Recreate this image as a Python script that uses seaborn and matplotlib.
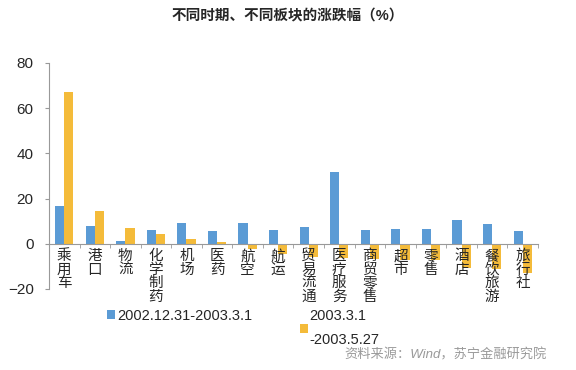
import pandas as pd
import seaborn as sns
import matplotlib.pyplot as plt

# Daten
categories = ["乘用车", "港口", "物流", "化学制药", "机场", "医药", "航空", "航运",
              "贸易流通", "医疗服务", "商贸零售", "超市", "零售", "酒店", "餐饮旅游", "旅行社"]
period1 = [16.7, 7.7, 1.0, 6.3, 9.1, 5.5, 9.1, 6.3, 7.3, 31.8, 6.0, 6.4, 6.4, 10.4, 8.6, 5.5]
period2 = [67.3, 14.4, 7.0, 4.3, 1.9, 0.6, -2.4, -4.6, -5.7, -6.4, -6.7, -7.4, -7.1, -10.9, -11.3, -13.1]
series_names = ["2002.12.31-2003.3.1", "2003.3.1\n-2003.5.27"]

df = pd.DataFrame({
    "cat": categories * 2,
    "val": period1 + period2,
    "period": [series_names[0]] * len(categories) + [series_names[1]] * len(categories),
})

sns.set_style("white")
plt.rcParams["font.family"] = ["Liberation Sans", "Noto Sans CJK SC"]

fig = plt.figure(figsize=(5.76, 3.7), dpi=100)
ax = fig.add_axes([0.085, 0.219, 0.849, 0.611])

sns.barplot(data=df, x="cat", y="val", hue="period", palette=["#5B9BD5", "#F4BB3A"],
            width=0.6, gap=0, ax=ax, legend=True, linewidth=0, saturation=1)

ax.set_ylim(-20, 80)
ax.set_yticks([-20, 0, 20, 40, 60, 80])
ax.set_xlim(-0.5, len(categories) - 0.5)
ax.tick_params(axis="y", labelsize=11, length=3, color="#999999", left=True, pad=8)
ax.set_xlabel("")
ax.set_ylabel("")
ax.set_axisbelow(False)  # Beschriftung vor den Balken

# x-Achse bei 0, vertikale Beschriftung
ax.spines["bottom"].set_position(("data", 0))
ax.spines["bottom"].set_color("#999999")
ax.spines["left"].set_color("#999999")
ax.spines["top"].set_visible(False)
ax.spines["right"].set_visible(False)
ax.set_xticks(range(len(categories)))
ax.set_xticklabels(["\n".join(c) for c in categories], fontsize=10.5, linespacing=0.95,
                   va="top")
ax.tick_params(axis="x", length=0, pad=4)
ax.set_xticks([i + 0.5 for i in range(-1, len(categories))], minor=True)
ax.tick_params(axis="x", which="minor", length=3, color="#999999", bottom=True)

# Legende (zwei getrennte Einträge)
handles, labels = ax.get_legend_handles_labels()
ax.get_legend().remove()
leg_kw = dict(loc="upper left", frameon=False, fontsize=10.5, handlelength=0.6,
              handleheight=0.6, handletextpad=0.1, borderaxespad=0, borderpad=0)
fig.legend(handles[:1], labels[:1], bbox_to_anchor=(0.185, 0.165), **leg_kw)
leg2 = fig.legend(handles[1:], labels[1:], bbox_to_anchor=(0.52, 0.165), **leg_kw)
for t in leg2.get_texts():
    t.set_linespacing(1.9)

fig.text(0.5, 0.955, "不同时期、不同板块的涨跌幅（%）", ha="center", va="center",
         fontsize=10.5, fontweight="bold")
fig.text(0.95, 0.04, "资料来源：Wind，苏宁金融研究院", ha="right", va="center",
         fontsize=9.5, color="#9a9a9a", style="italic")

fig.savefig("out.png", dpi=100)
